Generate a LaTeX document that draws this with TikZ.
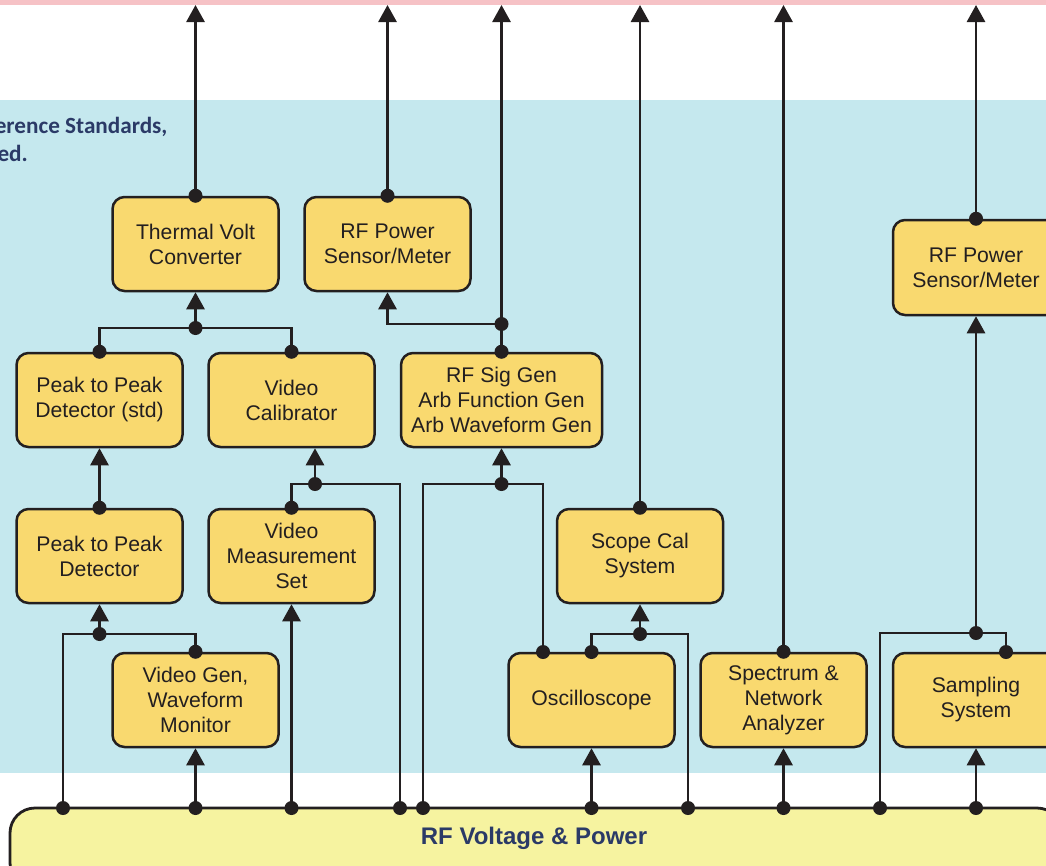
\documentclass[tikz,border=0pt]{standalone}
\usepackage{fontspec}
\setmainfont{Liberation Sans}
\newfontfamily\carlfont{Carlito}
\usetikzlibrary{arrows.meta}
\definecolor{ink}{HTML}{231F20}
\definecolor{navy}{HTML}{2B3A67}
\definecolor{boxfill}{HTML}{F9D96F}
\definecolor{bluebg}{HTML}{C5E8EE}
\definecolor{pinkbg}{HTML}{F6C2C6}
\definecolor{bandfill}{HTML}{F6F3A0}
\begin{document}
\begin{tikzpicture}[x=1pt,y=-1pt,
  unit/.style={draw=ink, line width=2.5pt, fill=boxfill, rounded corners=12pt,
    minimum width=166pt, minimum height=94pt, align=center, text=ink,
    font=\fontsize{21.2}{25}\selectfont, inner sep=0pt},
  wire/.style={draw=ink, line width=2.8pt},
  arr/.style={wire, -{Triangle[width=18pt,length=17pt]}}
]
\useasboundingbox (0,0) rectangle (1046,865);
\clip (0,0) rectangle (1046,865);
\fill[pinkbg] (0,0) rectangle (1046,4.5);
\fill[bluebg] (0,100) rectangle (1046,773);

\node[anchor=base east, text=navy, font=\carlfont\bfseries\fontsize{23.2}{27}\selectfont] (ref1) at (171,133) {erence Standards,};
\node[anchor=base west, text=navy, font=\carlfont\bfseries\fontsize{23.2}{27}\selectfont] (ref2) at (-6,161) {ed.};

% bottom band
\node[draw=ink, line width=2.8pt, fill=bandfill, rounded corners=25pt, inner sep=0pt,
  outer sep=0pt, minimum width=1052pt, minimum height=80pt, anchor=north west] (band) at (10,808) {};
\node[text=navy, font=\bfseries\fontsize{24}{28}\selectfont] (bandlabel) at (534,838) {RF Voltage \& Power};

% boxes
\node[unit] (tv) at (195.5,244) {Thermal Volt\\Converter};
\node[unit] (rfpa) at (387.5,244) {RF Power\\Sensor/Meter};
\node[unit] (pps) at (99.5,400) {Peak to Peak\\Detector (std)};
\node[unit] (vc) at (291.5,400) {Video\\Calibrator};
\node[unit, minimum width=201pt] (sg) at (501.5,400) {RF Sig Gen\\Arb Function Gen\\Arb Waveform Gen};
\node[unit] (ppd) at (99.5,556) {Peak to Peak\\Detector};
\node[unit] (vms) at (291.5,556) {Video\\Measurement\\Set};
\node[unit] (scs) at (640,556) {Scope Cal\\System};
\node[unit] (vg) at (195.5,700) {Video Gen,\\Waveform\\Monitor};
\node[unit] (osc) at (591.5,700) {Oscilloscope};
\node[unit] (sna) at (783.5,700) {Spectrum \&\\Network\\Analyzer};
\node[unit] (ss) at (976,700) {Sampling\\System};
\node[unit, minimum height=95pt] (rfpb) at (976,267.5) {RF Power\\Sensor/Meter};

% coordinates
\coordinate (T) at (0,5);
\coordinate (j1) at (195.5,328);
\coordinate (j2) at (501.5,324);
\coordinate (j3) at (315,484);
\coordinate (j4) at (501.5,484);
\coordinate (j5) at (99.5,634);
\coordinate (j6) at (640,634);
\coordinate (j7) at (976,633);
\coordinate (oscA) at (543,652);
\coordinate (oscB) at (591.5,652);
\coordinate (ssA) at (1006,652);
\coordinate (b1) at (63,808);
\coordinate (b2) at (195.5,808);
\coordinate (b3) at (291.5,808);
\coordinate (b4) at (400,808);
\coordinate (b5) at (423,808);
\coordinate (b6) at (591.5,808);
\coordinate (b7) at (688,808);
\coordinate (b8) at (783.5,808);
\coordinate (b9) at (880,808);
\coordinate (b10) at (976,808);

% connectors
\draw[arr] (tv.north) -- (tv.north |- T);
\draw[arr] (rfpa.north) -- (rfpa.north |- T);
\draw[arr] (sg.north) -- (sg.north |- T);
\draw[arr] (j2) -| (rfpa.south);
\draw[arr] (scs.north) -- (scs.north |- T);
\draw[arr] (sna.north) -- (sna.north |- T);
\draw[arr] (rfpb.north) -- (rfpb.north |- T);
\draw[wire] (pps.north) |- (j1) -| (vc.north);
\draw[arr] (j1) -- (tv.south);
\draw[arr] (ppd.north) -- (pps.south);
\draw[wire] (vms.north) |- (j3) -| (b4);
\draw[arr] (j3) -- (j3 |- vc.south);
\draw[wire] (b5) |- (j4) -| (oscA);
\draw[arr] (j4) -- (sg.south);
\draw[wire] (oscB) |- (j6) -| (b7);
\draw[arr] (j6) -- (scs.south);
\draw[arr] (b6) -- (osc.south);
\draw[arr] (b8) -- (sna.south);
\draw[wire] (b9) |- (j7) -| (ssA);
\draw[arr] (j7) -- (rfpb.south);
\draw[arr] (b10) -- (ss.south);
\draw[wire] (b1) |- (j5) -| (vg.north);
\draw[arr] (j5) -- (ppd.south);
\draw[arr] (b2) -- (vg.south);
\draw[arr] (b3) -- (vms.south);

% dots
\foreach \p in {tv.north, rfpa.north, sg.north, pps.north, vc.north, ppd.north,
  vms.north, scs.north, vg.north, sna.north, rfpb.north, oscA, oscB, ssA,
  j1, j2, j3, j4, j5, j6, j7, b1, b2, b3, b4, b5, b6, b7, b8, b9, b10}
  \fill[ink] (\p) circle (7pt);
\end{tikzpicture}
\end{document}
